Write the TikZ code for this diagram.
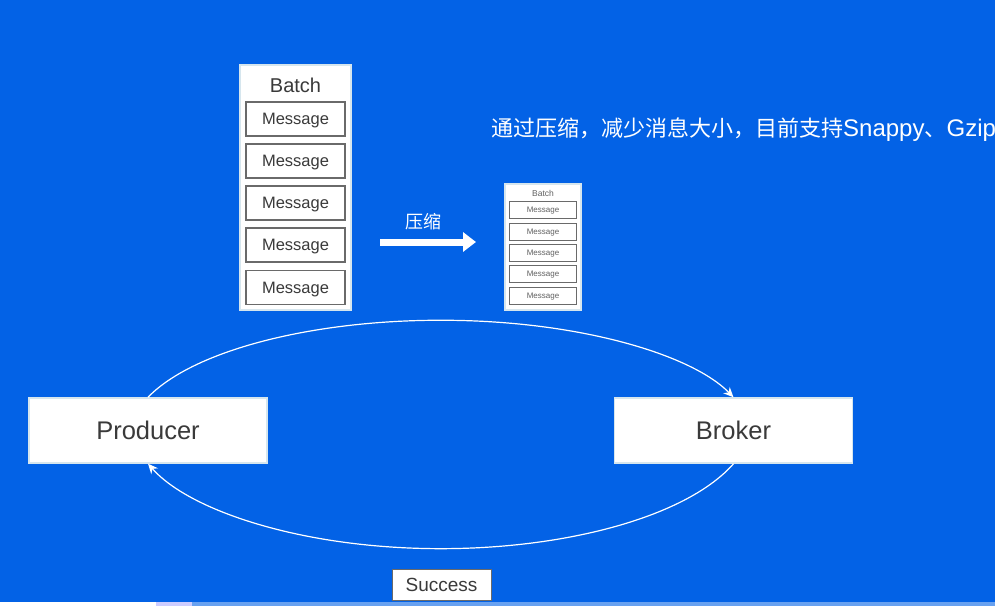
\documentclass[tikz,border=0pt]{standalone}
\usepackage{fontspec}
\setmainfont{Liberation Sans}
\newfontfamily\cjk{Noto Sans CJK SC}
\usetikzlibrary{arrows.meta}
\definecolor{bg}{HTML}{0362E6}
\definecolor{txt}{HTML}{3A3A3A}
\definecolor{msgline}{HTML}{6A6A6A}
\definecolor{lightedge}{HTML}{D6E6EE}
\tikzset{
  outerbox/.style={draw=lightedge, line width=1.5pt, fill=white, inner sep=0pt},
  bigmsg/.style={draw=msgline, line width=1.2pt, fill=white, minimum width=99pt, minimum height=34pt, inner sep=0pt, text height=11.8pt, text depth=0.5pt, text=txt, font=\fontsize{16.5}{18}\selectfont},
  smallmsg/.style={draw=msgline, line width=0.9pt, fill=white, minimum width=67pt, minimum height=17pt, inner sep=0pt, text height=5.7pt, text depth=0.3pt, text=txt!80, font=\fontsize{8}{9}\selectfont},
  mainbox/.style={draw=lightedge, line width=1.5pt, fill=white, minimum width=238pt, minimum height=65pt, inner sep=0pt, text height=18.3pt, text depth=0.5pt, text=txt, font=\fontsize{25.5}{28}\selectfont},
  loop/.style={draw=white, line width=1.2pt, -{Stealth[length=10pt,width=9pt]}},
}
\begin{document}
\begin{tikzpicture}[x=1pt,y=-1pt]
\path[fill=bg, use as bounding box] (0,0) rectangle (995,606);
% progress strip at bottom
\fill[white] (0,602) rectangle (156,606);
\fill[blue!20!white] (156,602) rectangle (192,606);
\fill[bg!60!white] (192,602) rectangle (995,606);

% big batch
\node[outerbox, minimum width=111pt, minimum height=245pt] (bigbatch) at (295.5,187.5) {};
\node[text=txt, font=\fontsize{20}{22}\selectfont] (bigbatchlabel) at (295.5,85) {Batch};
\node[bigmsg] (bm1) at (295.5,119) {Message};
\node[bigmsg] (bm2) at (295.5,161) {Message};
\node[bigmsg] (bm3) at (295.5,203) {Message};
\node[bigmsg] (bm4) at (295.5,245) {Message};
\node[bigmsg] (bm5) at (295.5,287.5) {Message};

% small batch
\node[outerbox, line width=1.2pt, minimum width=76pt, minimum height=126pt] (smallbatch) at (543,247) {};
\node[text=txt!80, font=\fontsize{8.5}{9}\selectfont] (smallbatchlabel) at (543,193) {Batch};
\node[smallmsg] (sm1) at (543,210) {Message};
\node[smallmsg] (sm2) at (543,231.5) {Message};
\node[smallmsg] (sm3) at (543,252.5) {Message};
\node[smallmsg] (sm4) at (543,274) {Message};
\node[smallmsg] (sm5) at (543,296) {Message};

% compress arrow
\coordinate (arrowstart) at (380,242);
\coordinate (arrowend) at (476,242);
\draw[white, line width=7pt, -{Triangle[length=13pt,width=19pt]}] (arrowstart) -- (arrowend);
\node[text=white, font=\cjk\fontsize{18}{20}\selectfont] (compresslabel) at (423,222) {压缩};

% top note
\node[anchor=west, text=white, inner sep=0pt, font=\cjk\fontsize{22}{24}\selectfont] (note) at (491,130)
  {通过压缩，减少消息大小，目前支持{\rmfamily\fontsize{24}{24}\selectfont Snappy}、{\rmfamily\fontsize{24}{24}\selectfont Gzip}};

% producer / broker
\node[mainbox] (producer) at (148,430.5) {Producer};
\node[mainbox] (broker) at (733.5,430.5) {Broker};

% loop arcs
\draw[loop] (producer.north) arc[start angle=160, end angle=20, x radius=311.5pt, y radius=117pt];
\draw[loop] (broker.south) arc[start angle=-20, end angle=-160, x radius=311.5pt, y radius=129pt];

% success
\node[draw=msgline, line width=1pt, fill=white, minimum width=99pt, minimum height=31pt, inner sep=0pt, text height=13.6pt, text depth=0.5pt, text=txt, font=\fontsize{19}{21}\selectfont] (success) at (441.5,584.5) {Success};
\end{tikzpicture}
\end{document}
